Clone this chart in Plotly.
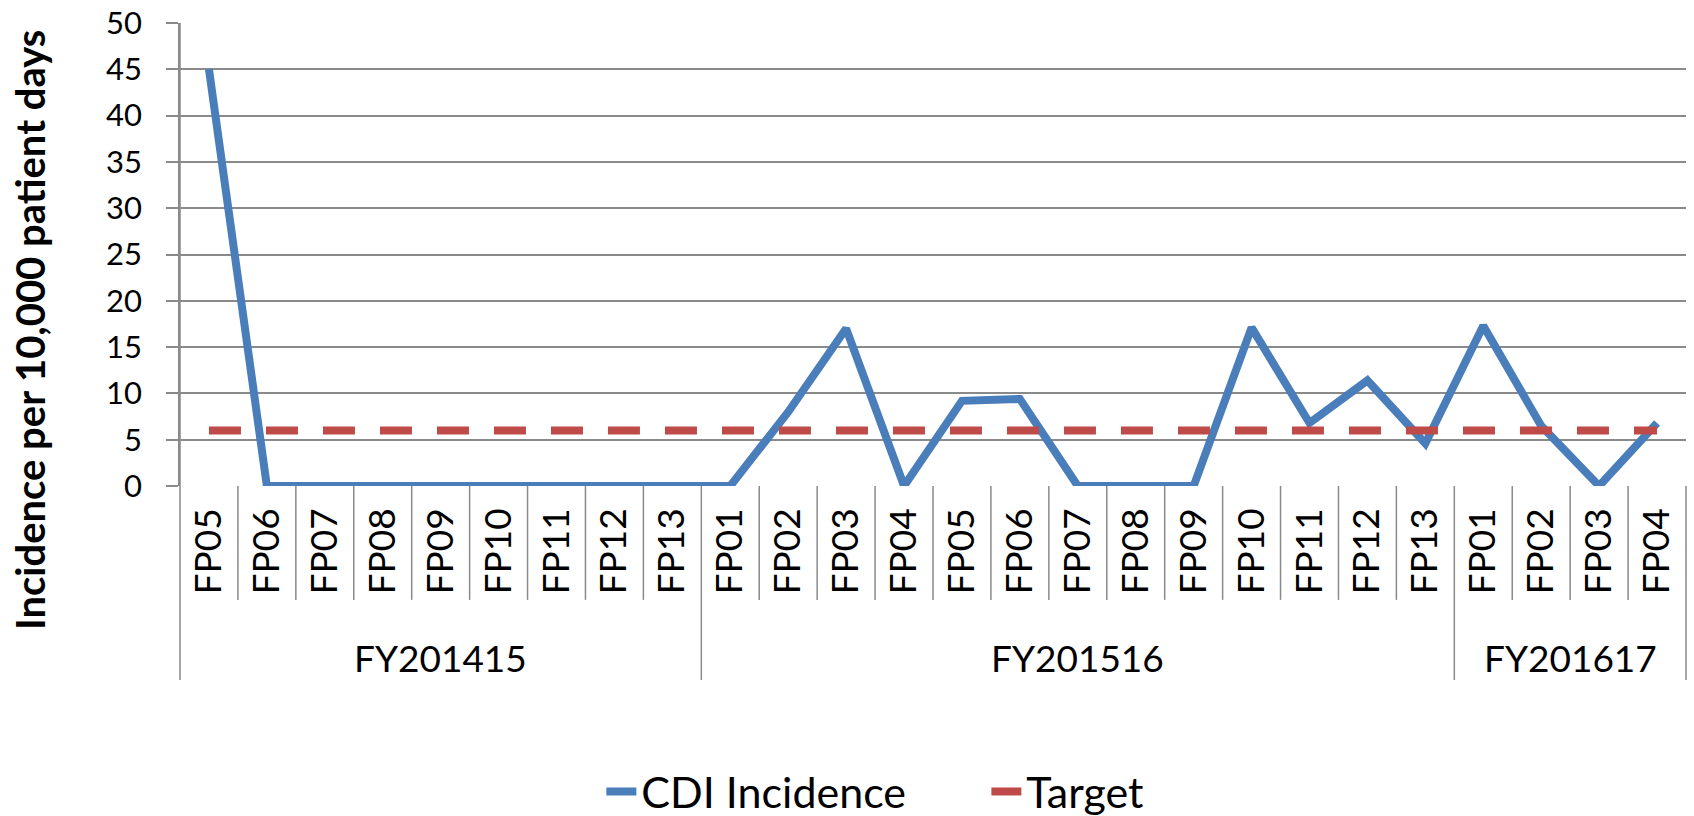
import plotly.graph_objects as go

periods = ["FP05", "FP06", "FP07", "FP08", "FP09", "FP10", "FP11", "FP12", "FP13",
           "FP01", "FP02", "FP03", "FP04", "FP05", "FP06", "FP07", "FP08", "FP09",
           "FP10", "FP11", "FP12", "FP13",
           "FP01", "FP02", "FP03", "FP04"]
years = ["FY201415"] * 9 + ["FY201516"] * 13 + ["FY201617"] * 4
cdi_incidence = [45, 0, 0, 0, 0, 0, 0, 0, 0,
                 0, 8.0, 17.0, 0, 9.2, 9.4, 0, 0, 0, 17.1, 6.8, 11.4, 4.6,
                 17.3, 6.5, 0, 6.8]
target = [6] * 26
y_ticks = [0, 5, 10, 15, 20, 25, 30, 35, 40, 45, 50]

FONT = "Lato, 'Open Sans', sans-serif"
GRID = "#8a8a8a"
idx = list(range(len(periods)))

fig = go.Figure()
fig.add_trace(go.Scatter(x=idx, y=cdi_incidence, mode="lines", name="CDI Incidence",
                         line=dict(color="#4A7EBB", width=8, shape="linear")))
fig.add_trace(go.Scatter(x=idx, y=target, mode="lines", name="Target",
                         line=dict(color="#BE4B48", width=8, dash="32px,25px")))

shapes = []
shapes.append(dict(type="line", xref="paper", yref="paper", x0=0, x1=0, y0=1, y1=-0.419,
                   line=dict(color=GRID, width=1.5)))
shapes.append(dict(type="line", xref="paper", yref="paper", x0=1, x1=1, y0=0, y1=-0.419,
                   line=dict(color=GRID, width=1.5)))
for i in range(1, len(periods)):
    group_edge = years[i] != years[i - 1]
    shapes.append(dict(type="line", xref="x", yref="paper", x0=i - 0.5, x1=i - 0.5,
                       y0=0, y1=-0.419 if group_edge else -0.246,
                       line=dict(color=GRID, width=1.5)))

annotations = []
groups = []
for i, yname in enumerate(years):
    if not groups or groups[-1][0] != yname:
        groups.append([yname, i, i])
    else:
        groups[-1][2] = i
for name, a, b in groups:
    annotations.append(dict(x=(a + b) / 2, y=-0.371, xref="x", yref="paper", text=name,
                            showarrow=False, xanchor="center", yanchor="middle",
                            font=dict(family=FONT, size=37, color="black")))
annotations.append(dict(x=-0.0995, y=0.337, xref="paper", yref="paper",
                        text="<b>Incidence per 10,000 patient days</b>", textangle=-90,
                        showarrow=False, xanchor="center", yanchor="middle",
                        font=dict(family=FONT, size=40, color="black")))

fig.update_layout(
    width=1694, height=816,
    margin=dict(l=180, r=8, t=23, b=330, autoexpand=False),
    paper_bgcolor="white", plot_bgcolor="white",
    showlegend=True,
    legend=dict(orientation="h", xref="container", yref="container", x=0.355, y=0.03,
                xanchor="left", yanchor="middle", entrywidth=340, entrywidthmode="pixels",
                font=dict(family=FONT, size=43, color="black"),
                bgcolor="rgba(0,0,0,0)"),
    shapes=shapes,
    annotations=annotations,
    xaxis=dict(range=[-0.5, len(periods) - 0.5], tickmode="array", tickvals=idx,
               ticktext=periods, tickangle=-90, showgrid=False, zeroline=False,
               showline=False, ticks="", ticklabelstandoff=14, automargin=False,
               tickfont=dict(family=FONT, size=37, color="black"), fixedrange=True),
    yaxis=dict(range=[0, 50], tickmode="array", tickvals=y_ticks, showgrid=True,
               gridcolor=GRID, gridwidth=1.5, zeroline=False, showline=True,
               linecolor=GRID, linewidth=1.5, ticks="outside", ticklen=12,
               tickcolor=GRID, tickwidth=1.5, ticklabelstandoff=18, automargin=False,
               tickfont=dict(family=FONT, size=31, color="black"), fixedrange=True),
)

fig.write_html("out.html", config={"displayModeBar": False},
               post_script="document.body.style.margin='0';document.body.style.overflow='hidden';")
